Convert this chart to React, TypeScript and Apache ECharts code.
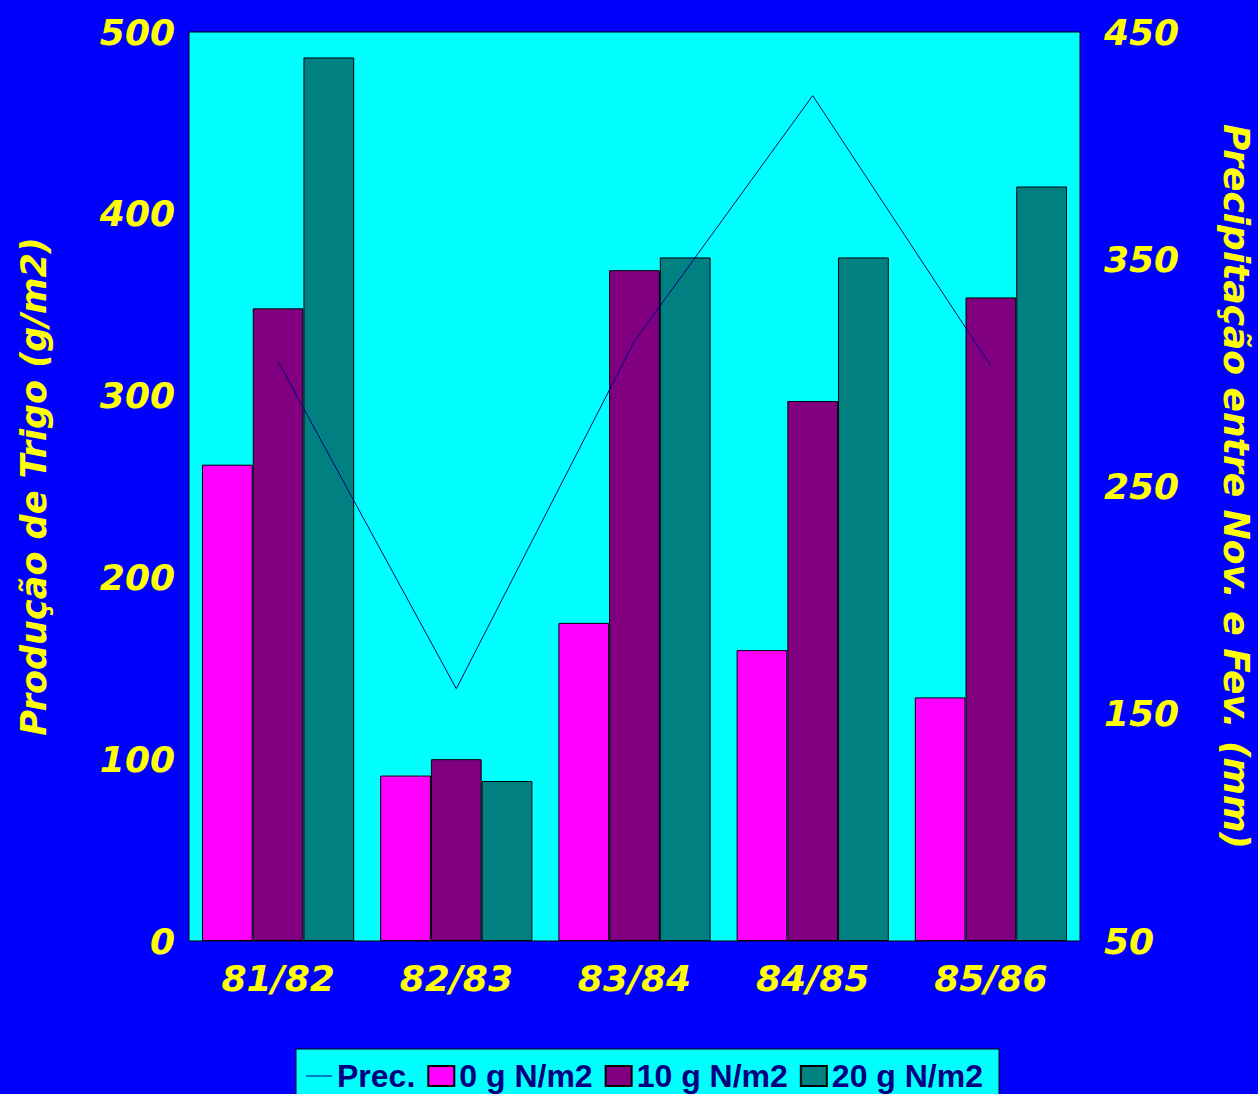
import React, { useEffect, useRef } from "react";
import * as echarts from "echarts";

const seasons = ["81/82", "82/83", "83/84", "84/85", "85/86"];
const yield0N = [262, 91, 175, 160, 134];
const yield10N = [348, 100, 369, 297, 354];
const yield20N = [486, 88, 376, 376, 415];
const precipitation = [305, 161, 314, 422, 303];

const leftTicks = { min: 0, max: 500, interval: 100 };
const rightTicks = { min: 50, max: 450, interval: 100 };

const axisFont = {
  color: "#FFFF00",
  fontFamily: "DejaVu Sans",
  fontWeight: "bold" as const,
  fontStyle: "italic" as const,
};

export default function App() {
  const ref = useRef<HTMLDivElement>(null);

  useEffect(() => {
    if (!ref.current) return;
    const chart = echarts.init(ref.current, undefined, { renderer: "svg" });
    const barStyle = (color: string) => ({
      color,
      borderColor: "#000000",
      borderWidth: 1,
    });
    chart.setOption({
      animation: false,
      backgroundColor: "#0000FF",
      grid: {
        left: 189,
        right: 178,
        top: 32,
        bottom: 153,
        outerBoundsMode: "none",
        containLabel: false,
        show: true,
        backgroundColor: "#00FFFF",
        borderColor: "#000000",
        borderWidth: 1,
      },
      legend: {
        left: 296,
        top: 1049,
        width: 760,
        padding: [11, 16, 14, 10],
        backgroundColor: "#00FFFF",
        borderColor: "#000000",
        borderWidth: 1,
        itemWidth: 26,
        itemHeight: 20,
        itemGap: 12,
        icon: "rect",
        textStyle: {
          color: "#000080",
          fontFamily: "Liberation Sans",
          fontWeight: "bold",
          fontSize: 32,
        },
        data: [
          { name: "Prec.", icon: "path://M0,9.5 L26,9.5 L26,10.5 L0,10.5 Z" },
          { name: "0 g N/m2" },
          { name: "10 g N/m2" },
          { name: "20 g N/m2" },
        ],
      },
      xAxis: {
        type: "category",
        data: seasons,
        axisTick: { show: false },
        axisLine: { show: false },
        axisLabel: { ...axisFont, fontSize: 36, margin: 19 },
      },
      yAxis: [
        {
          type: "value",
          ...leftTicks,
          position: "left",
          splitLine: { show: false },
          axisLine: { show: false },
          axisTick: { show: false },
          axisLabel: { ...axisFont, fontSize: 36, margin: 14 },
          name: "Produção de Trigo (g/m2)",
          nameLocation: "middle",
          nameRotate: 90,
          nameGap: 138,
          nameTextStyle: { ...axisFont, fontSize: 35 },
        },
        {
          type: "value",
          ...rightTicks,
          position: "right",
          splitLine: { show: false },
          axisLine: { show: false },
          axisTick: { show: false },
          axisLabel: { ...axisFont, fontSize: 36, margin: 24 },
          name: "Precipitação entre Nov. e Fev. (mm)",
          nameLocation: "middle",
          nameRotate: -90,
          nameGap: 138,
          nameTextStyle: { ...axisFont, fontSize: 36 },
        },
      ],
      series: [
        {
          name: "0 g N/m2",
          type: "bar",
          data: yield0N,
          itemStyle: barStyle("#FF00FF"),
          barGap: "0%",
          barCategoryGap: "14.6%",
        },
        {
          name: "10 g N/m2",
          type: "bar",
          data: yield10N,
          itemStyle: barStyle("#800080"),
          barGap: "0%",
          barCategoryGap: "14.6%",
        },
        {
          name: "20 g N/m2",
          type: "bar",
          data: yield20N,
          itemStyle: barStyle("#008080"),
          barGap: "0%",
          barCategoryGap: "14.6%",
        },
        {
          name: "Prec.",
          type: "line",
          yAxisIndex: 1,
          data: precipitation,
          symbol: "none",
          z: 5,
          lineStyle: { color: "#000080", width: 1 },
          itemStyle: { color: "#000080" },
        },
      ],
    });
    return () => chart.dispose();
  }, []);

  return (
    <div
      ref={ref}
      style={{ position: "fixed", left: 0, top: 0, width: 1258, height: 1094 }}
    />
  );
}
